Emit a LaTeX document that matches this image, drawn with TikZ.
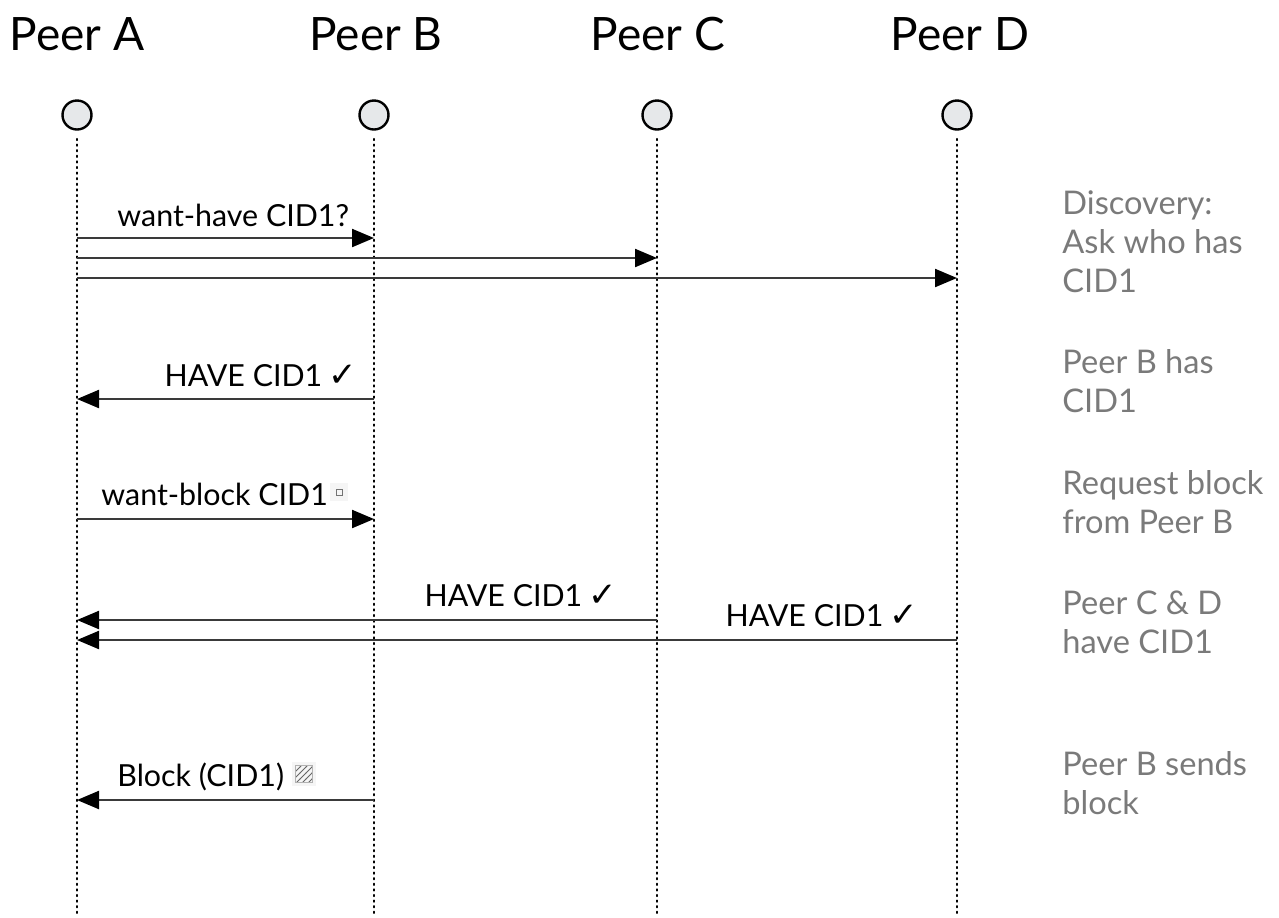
\documentclass[tikz,border=0pt]{standalone}
\usepackage{fontspec}
\setmainfont{Lato}
\newfontfamily\symfont{DejaVu Sans}
\usetikzlibrary{arrows.meta,patterns}
\definecolor{circfill}{HTML}{E6E8EA}
\definecolor{linegray}{HTML}{3A3A3A}
\definecolor{notegray}{HTML}{7A7A7A}
\newcommand{\chk}{\hspace{-1pt}{\symfont\fontsize{17pt}{17pt}\selectfont ✓}}
\tikzset{
  peer/.style={font=\fontsize{23pt}{27pt}\selectfont, anchor=base},
  head/.style={circle, draw=black, line width=1.2pt, fill=circfill, minimum size=14.5pt, inner sep=0pt},
  life/.style={dotted, line width=0.8pt, line cap=round},
  msg/.style={draw=linegray, line width=1.1pt, -{Triangle[length=11pt,width=9pt,fill=black,color=black]}},
  lbl/.style={font=\fontsize{15.2pt}{19pt}\selectfont, inner sep=0pt},
  note/.style={font=\fontsize{16.3pt}{19.5pt}\selectfont, text=notegray, align=left, anchor=north west, inner sep=0pt},
}
\begin{document}
\begin{tikzpicture}[x=0.5pt,y=-0.5pt]
\useasboundingbox (0,0) rectangle (1279,917);
% headers
\node[peer] (tA) at (77,50) {Peer A};
\node[peer] (tB) at (376,50) {Peer B};
\node[peer] (tC) at (658,50) {Peer C};
\node[peer] (tD) at (960,50) {Peer D};
% heads
\node[head] (hA) at (77,115) {};
\node[head] (hB) at (374,115) {};
\node[head] (hC) at (657,115) {};
\node[head] (hD) at (957,115) {};
% lifeline ends
\coordinate (eA) at (77,917);
\coordinate (eB) at (374,917);
\coordinate (eC) at (657,917);
\coordinate (eD) at (957,917);
\draw[life] (hA.south) ++(0,8) -- (eA);
\draw[life] (hB.south) ++(0,8) -- (eB);
\draw[life] (hC.south) ++(0,8) -- (eC);
\draw[life] (hD.south) ++(0,8) -- (eD);
% message end points
\coordinate (a1) at (77,238); \coordinate (b1) at (374,238);
\coordinate (a2) at (77,258); \coordinate (c2) at (657,258);
\coordinate (a3) at (77,278); \coordinate (d3) at (957,278);
\coordinate (b4) at (374,399); \coordinate (a4) at (77,399);
\coordinate (a5) at (77,519); \coordinate (b5) at (374,519);
\coordinate (c6) at (657,620); \coordinate (a6) at (77,620);
\coordinate (d7) at (957,640); \coordinate (a7) at (77,640);
\coordinate (b8) at (374,800); \coordinate (a8) at (77,800);
\draw[msg] (a1) -- (b1);
\draw[msg] (a2) -- (c2);
\draw[msg] (a3) -- (d3);
\draw[msg] (b4) -- (a4);
\draw[msg] (a5) -- (b5);
\draw[msg] (c6) -- (a6);
\draw[msg] (d7) -- (a7);
\draw[msg] (b8) -- (a8);
% labels
\node[lbl, anchor=base west] (l1) at (117,226) {want-have CID1?};
\node[lbl, anchor=base east] (l4) at (357,386) {HAVE CID1 \chk};
\node[lbl, anchor=base west] (l5) at (101,505) {want-block CID1};
\node[lbl, anchor=base east] (l6) at (617,606) {HAVE CID1 \chk};
\node[lbl, anchor=base east] (l7) at (918,626) {HAVE CID1 \chk};
\node[lbl, anchor=base west] (l8) at (117,786) {Block (CID1)};
% icons
\node[fill=black!4, minimum size=9pt, inner sep=0pt] (i5) at (339,492) {};
\node[draw=black!55, line width=0.4pt, minimum size=3pt, inner sep=0pt] (i5b) at (i5) {};
\node[fill=black!4, minimum size=12pt, inner sep=0pt] (i8) at (304,774) {};
\node[draw=black!30, fill=black!25, pattern=north east lines, pattern color=black!60, minimum size=8.5pt, inner sep=0pt] (i8b) at (i8) {};
% notes
\node[note] (n1) at (1062,190) {Discovery:\\Ask who has\\CID1};
\node[note] (n2) at (1062,349) {Peer B has\\CID1};
\node[note] (n3) at (1062,470) {Request block\\from Peer B};
\node[note] (n4) at (1062,590) {Peer C \& D\\have CID1};
\node[note] (n5) at (1062,751) {Peer B sends\\block};
\end{tikzpicture}
\end{document}
